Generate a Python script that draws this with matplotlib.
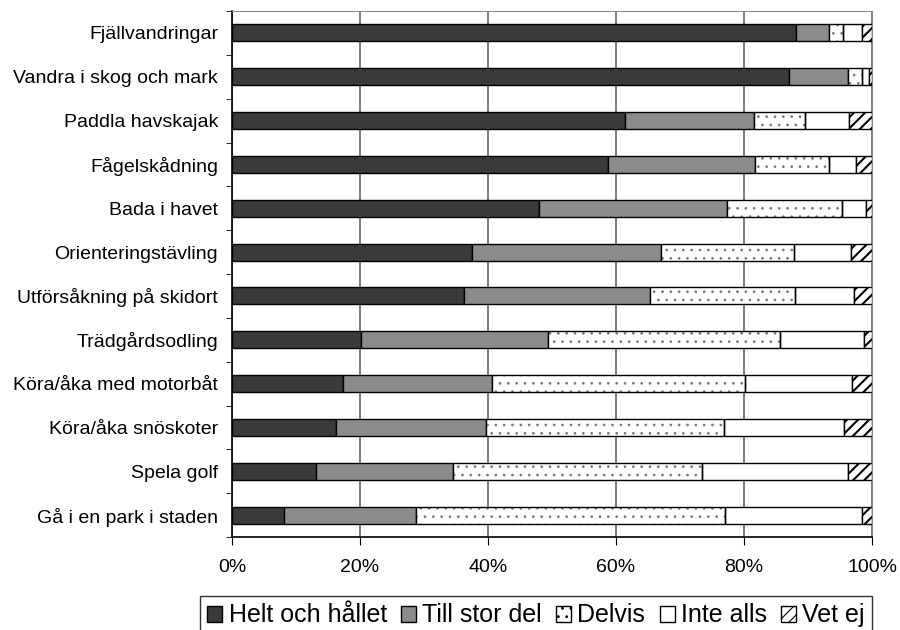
import matplotlib
matplotlib.use('Agg')
import matplotlib.pyplot as plt
from matplotlib.patches import Patch
import numpy as np

plt.rcParams['font.family'] = ['Liberation Sans', 'DejaVu Sans']

activities = ['Fjällvandringar', 'Vandra i skog och mark', 'Paddla havskajak',
              'Fågelskådning', 'Bada i havet', 'Orienteringstävling',
              'Utförsåkning på skidort', 'Trädgårdsodling',
              'Köra/åka med motorbåt', 'Köra/åka snöskoter', 'Spela golf',
              'Gå i en park i staden']

helt = [88.1, 87.0, 61.4, 58.8, 48.0, 37.5, 36.3, 20.1, 17.3, 16.2, 13.1, 8.2]
stor = [5.2, 9.2, 20.1, 22.9, 29.4, 29.6, 29.0, 29.2, 23.4, 23.5, 21.4, 20.5]
delvis = [2.1, 2.3, 8.1, 11.6, 17.9, 20.7, 22.7, 36.4, 39.5, 37.1, 38.9, 48.4]
inte = [3.1, 1.0, 6.8, 4.2, 3.7, 8.9, 9.2, 13.1, 16.7, 18.8, 22.8, 21.4]
vetej = [1.5, 0.5, 3.6, 2.5, 1.0, 3.3, 2.8, 1.2, 3.1, 4.4, 3.8, 1.5]

series = ['Helt och hållet', 'Till stor del', 'Delvis', 'Inte alls', 'Vet ej']
values = [helt, stor, delvis, inte, vetej]
colors = ['#3a3a3c', '#8b8b8d', 'white', 'white', 'white']
hatches = [None, None, '..', None, '///']
hatch_colors = [None, None, '#777777', None, 'black']
hatch_widths = [1.0, 1.0, 0.7, 1.0, 1.5]

fig = plt.figure(figsize=(9, 6.3), dpi=100)
ax = fig.add_axes([0.2578, 0.1476, 0.7111, 0.8349])

y = np.arange(len(activities))
left = np.zeros(len(activities))
handles = []
for name, vals, col, hat, hcol, hw in zip(series, values, colors, hatches,
                                         hatch_colors, hatch_widths):
    vals = np.array(vals)
    with plt.rc_context({'hatch.linewidth': hw}):
        if hat is not None:
            # hatch layer in its own colour, outline drawn on top in black
            ax.barh(y, vals, left=left, height=0.39, color=col, hatch=hat,
                    edgecolor=hcol, linewidth=0, zorder=3)
            ax.barh(y, vals, left=left, height=0.39, fill=False,
                    edgecolor='black', linewidth=1.0, zorder=4)
        else:
            ax.barh(y, vals, left=left, height=0.39, color=col,
                    edgecolor='black', linewidth=1.0, zorder=3)
        handles.append(Patch(facecolor=col, edgecolor='black', hatch=hat,
                             linewidth=1.0, label=name))
    left += vals

ax.set_xlim(0, 100)
ax.set_ylim(len(activities) - 0.5, -0.5)
ax.set_xticks([0, 20, 40, 60, 80, 100])
ax.set_xticklabels(['0%', '20%', '40%', '60%', '80%', '100%'], fontsize=14)
ax.set_yticks(y)
ax.set_yticklabels(activities, fontsize=14)
ax.set_yticks(np.arange(len(activities) + 1) - 0.5, minor=True)
ax.tick_params(axis='y', which='major', length=0, pad=10)
ax.tick_params(axis='y', which='minor', length=4, direction='out', color='black')
ax.tick_params(axis='x', length=6, pad=10, color='black')
ax.xaxis.grid(True, color='#666666', linewidth=1.2, zorder=0)

for side in ['top', 'right']:
    ax.spines[side].set_color('#888888')
for side in ['left', 'bottom']:
    ax.spines[side].set_color('black')
    ax.spines[side].set_linewidth(1.2)

with plt.rc_context({'hatch.linewidth': 0.8}):
    leg = fig.legend(handles=handles, loc='upper left', bbox_to_anchor=(0.222, 0.054),
                     ncol=5, fontsize=18, frameon=True, fancybox=False,
                     edgecolor='black', handlelength=0.6, handleheight=0.6,
                     handletextpad=0.25, columnspacing=0.57, borderpad=0.3,
                     borderaxespad=0)
leg.get_frame().set_linewidth(1.0)

fig.savefig('out.png', dpi=100)
